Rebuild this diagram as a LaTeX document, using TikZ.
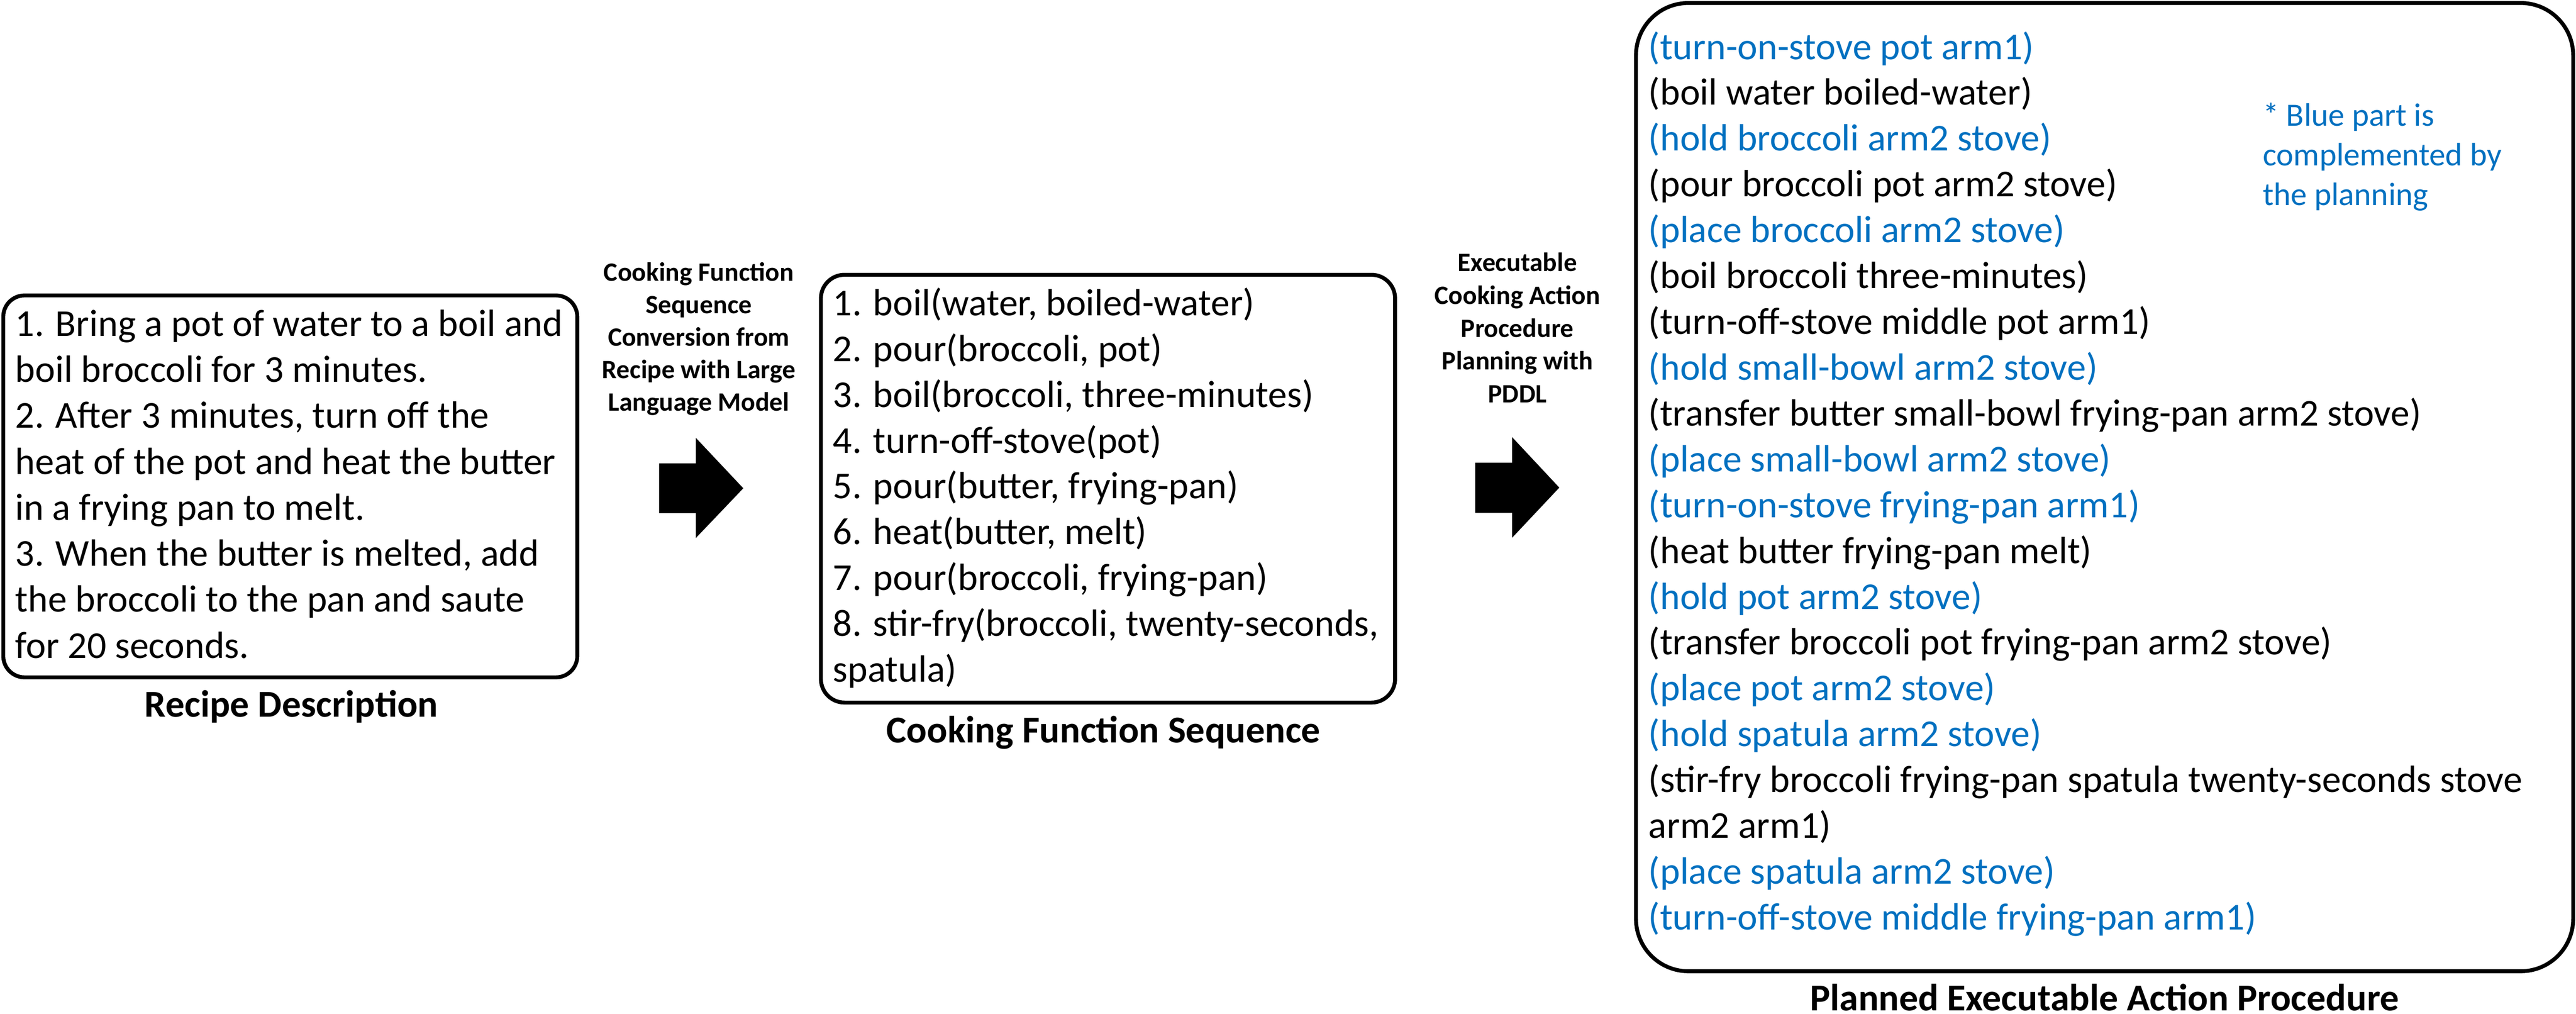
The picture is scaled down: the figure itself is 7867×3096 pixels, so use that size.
\documentclass[tikz,border=0pt]{standalone}
\usepackage{fontspec}
\setmainfont{Carlito}
\definecolor{plan}{RGB}{0,112,192}
\begin{document}
\begin{tikzpicture}[x=0.01cm,y=-0.01cm,
  box/.style={draw=black,line width=3.4pt,rectangle,inner sep=0pt},
  txt/.style={inner sep=0pt,anchor=base west,font=\fontsize{33pt}{39.8pt}\selectfont},
  blu/.style={txt,text=plan},
  lab/.style={inner sep=0pt,anchor=base,font=\fontsize{33pt}{39.8pt}\selectfont\bfseries},
  alab/.style={inner sep=0pt,anchor=base,font=\fontsize{23pt}{28pt}\selectfont\bfseries},
  blockarrow/.style={fill=black,draw=none}]
\useasboundingbox (0,0) rectangle (7867,3096);

% boxes
\node[box,rounded corners=0.65cm,minimum width=17.52cm,minimum height=11.655cm] (recipe) at (886.5,1485.25) {};
\node[box,rounded corners=0.72cm,minimum width=17.525cm,minimum height=13.055cm] (funcs) at (3383.75,1492.25) {};
\node[box,rounded corners=1.6cm,minimum width=28.605cm,minimum height=29.55cm] (plan) at (6427.25,1487.5) {};

% recipe text
\foreach \t [count=\i from 0] in {{1. Bring a pot of water to a boil and},{boil broccoli for 3 minutes.},{2. After 3 minutes, turn off the},{heat of the pot and heat the butter},{in a frying pan to melt.},{3. When the butter is melted, add},{the broccoli to the pan and saute},{for 20 seconds.}}
  \node[txt] (r\i) at (46,1026+140.5*\i) {\t};

% function sequence text
\foreach \t [count=\i from 0] in {{1. boil(water, boiled-water)},{2. pour(broccoli, pot)},{3. boil(broccoli, three-minutes)},{4. turn-off-stove(pot)},{5. pour(butter, frying-pan)},{6. heat(butter, melt)},{7. pour(broccoli, frying-pan)},{8. stir-fry(broccoli, twenty-seconds,},{spatula)}}
  \node[txt] (f\i) at (2543,963+140*\i) {\t};

% planned procedure text
\foreach \t/\s [count=\i from 0] in {
  {(turn-on-stove pot arm1)}/blu,
  {(boil water boiled-water)}/txt,
  {(hold broccoli arm2 stove)}/blu,
  {(pour broccoli pot arm2 stove)}/txt,
  {(place broccoli arm2 stove)}/blu,
  {(boil broccoli three-minutes)}/txt,
  {(turn-off-stove middle pot arm1)}/txt,
  {(hold small-bowl arm2 stove)}/blu,
  {(transfer butter small-bowl frying-pan arm2 stove)}/txt,
  {(place small-bowl arm2 stove)}/blu,
  {(turn-on-stove frying-pan arm1)}/blu,
  {(heat butter frying-pan melt)}/txt,
  {(hold pot arm2 stove)}/blu,
  {(transfer broccoli pot frying-pan arm2 stove)}/txt,
  {(place pot arm2 stove)}/blu,
  {(hold spatula arm2 stove)}/blu,
  {(stir-fry broccoli frying-pan spatula twenty-seconds stove}/txt,
  {arm2 arm1)}/txt,
  {(place spatula arm2 stove)}/blu,
  {(turn-off-stove middle frying-pan arm1)}/blu}
  \node[\s] (p\i) at (5034,181+139.9*\i) {\t};

% note
\foreach \t [count=\i from 0] in {{* Blue part is},{complemented by},{the planning}}
  \node[blu,font=\fontsize{28.2pt}{34pt}\selectfont] (n\i) at (6910,385+121*\i) {\t};

% captions
\node[lab] (capA) at (890,2189) {Recipe Description};
\node[lab] (capB) at (3370,2268) {Cooking Function Sequence};
\node[lab] (capC) at (6427,3086) {Planned Executable Action Procedure};

% arrow labels
\foreach \t [count=\i from 0] in {{Cooking Function},{Sequence},{Conversion from},{Recipe with Large},{Language Model}}
  \node[alab] (a\i) at (2134,859+99*\i) {\t};
\foreach \t [count=\i from 0] in {{Executable},{Cooking Action},{Procedure},{Planning with},{PDDL}}
  \node[alab] (b\i) at (4634,829+100*\i) {\t};

% block arrows
\fill[blockarrow] (2013,1415) -- (2125,1415) -- (2125,1337) -- (2270,1491) -- (2125,1643) -- (2125,1567) -- (2013,1567) -- cycle;
\fill[blockarrow] (4505,1413) -- (4618,1413) -- (4618,1335) -- (4762,1489) -- (4618,1642) -- (4618,1566) -- (4505,1566) -- cycle;
\end{tikzpicture}
\end{document}
